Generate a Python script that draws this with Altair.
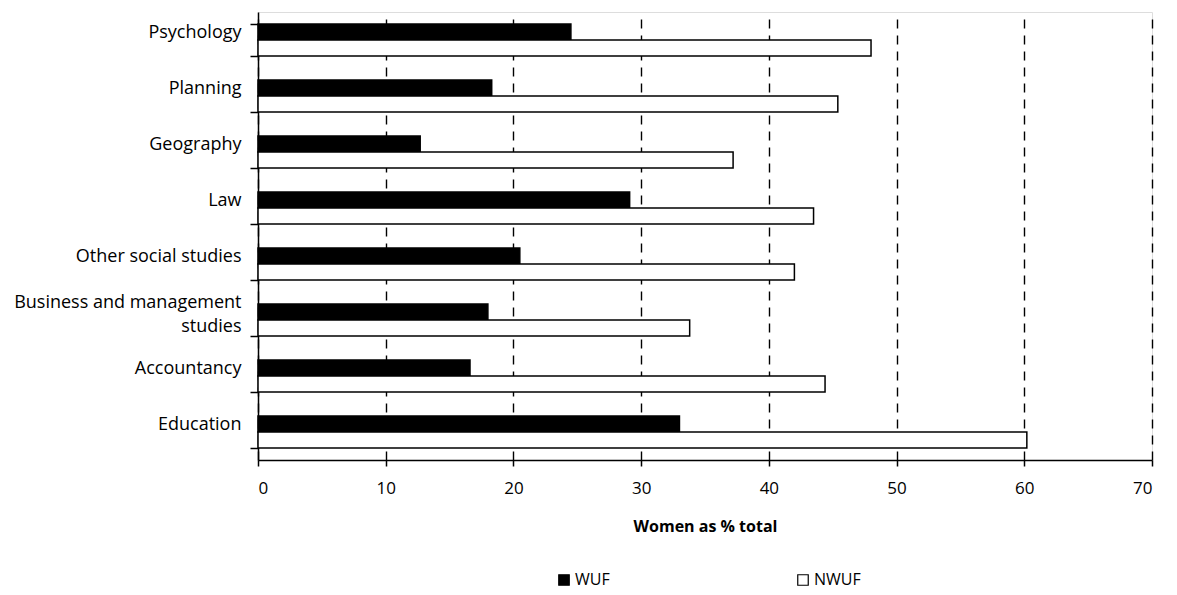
import altair as alt
import pandas as pd

categories = ["Psychology", "Planning", "Geography", "Law", "Other social studies",
              "Business and management studies", "Accountancy", "Education"]
series = ["WUF", "NWUF"]
wuf = [24.5, 18.3, 12.7, 29.1, 20.5, 18.0, 16.6, 33.0]
nwuf = [48.0, 45.4, 37.2, 43.5, 42.0, 33.8, 44.4, 60.2]
x_ticks = [0, 10, 20, 30, 40, 50, 60, 70]

rows = []
for c, a, b in zip(categories, wuf, nwuf):
    rows.append({"category": c, "series": "WUF", "value": a})
    rows.append({"category": c, "series": "NWUF", "value": b})
df = pd.DataFrame(rows)

FONT = "Open Sans"

chart = alt.Chart(df).mark_bar(stroke="black", strokeWidth=1.5).encode(
    y=alt.Y(
        "category:N", sort=categories, title=None,
        scale=alt.Scale(paddingInner=0.43, paddingOuter=0.215),
        axis=alt.Axis(
            tickBand="extent", tickSize=8, tickColor="black", tickWidth=1.5,
            domainColor="black", domainWidth=1.5,
            labelFont=FONT, labelFontSize=18, labelColor="black",
            labelPadding=9, labelLimit=400, labelLineHeight=24,
            labelOffset={"condition": {"test": "datum.label == 'Business and management studies'", "value": -18}, "value": -8},
            labelExpr="datum.label == 'Business and management studies' ? ['Business and management', 'studies'] : datum.label",
            grid=False,
        ),
    ),
    yOffset=alt.YOffset("series:N", sort=series, scale=alt.Scale(paddingInner=0, paddingOuter=0)),
    x=alt.X(
        "value:Q", title="Women as % total",
        scale=alt.Scale(domain=[0, 70], nice=False),
        axis=alt.Axis(
            values=x_ticks, grid=True, gridColor="black", gridDash=[9, 7], gridWidth=1.4,
            tickSize=6, tickColor="black", tickWidth=1.5,
            domainColor="black", domainWidth=1.5,
            labelFont=FONT, labelFontSize=17, labelColor="black", labelPadding=14,
            titleFont=FONT, titleFontSize=16, titleFontWeight="bold", titleColor="black",
            titlePadding=22,
        ),
    ),
    fill=alt.Fill(
        "series:N",
        scale=alt.Scale(domain=series, range=["black", "white"]),
        legend=alt.Legend(
            title=None, orient="none", direction="horizontal",
            legendX=298, legendY=560,
            symbolType="square", symbolSize=110, symbolStrokeColor="black", symbolStrokeWidth=1.2,
            labelFont=FONT, labelFontSize=16, labelColor="black", labelOffset=3,
            columnPadding=185,
        ),
    ),
).properties(
    width=894, height=448,
    autosize=alt.AutoSizeParams(type="none"),
    padding={"left": 258, "top": 12, "right": 25, "bottom": 135},
).configure_view(stroke=None).configure(background="white")

chart.save("out.html", embed_options={"renderer": "svg", "actions": False})
